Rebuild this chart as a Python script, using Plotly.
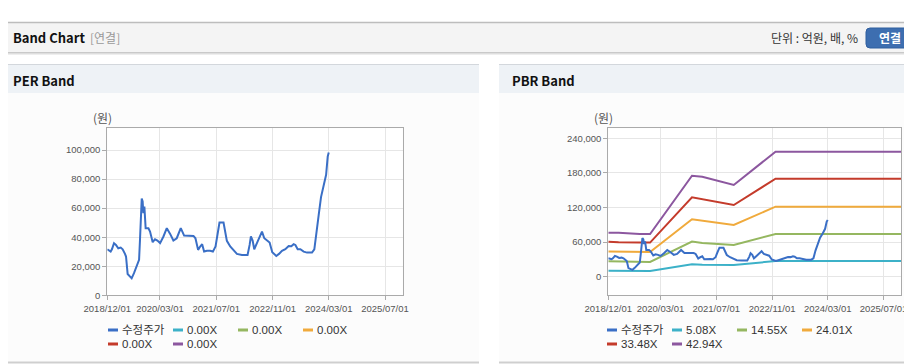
import plotly.graph_objects as go

# ---------------- data ----------------
price_name = "수정주가"
price_dates = [
    "2018-12-01", "2018-12-18", "2018-12-30", "2019-01-10", "2019-01-28", "2019-02-14",
    "2019-03-06", "2019-03-27", "2019-04-13", "2019-05-03", "2019-05-12", "2019-05-26",
    "2019-06-16", "2019-06-30", "2019-07-20", "2019-08-12", "2019-09-02", "2019-09-10",
    "2019-09-19", "2019-09-25", "2019-10-03", "2019-10-09", "2019-10-18", "2019-10-29",
    "2019-11-22", "2019-12-06", "2019-12-29", "2020-01-18", "2020-02-08", "2020-03-02",
    "2020-03-31", "2020-04-29", "2020-05-28", "2020-06-25", "2020-07-24", "2020-08-28",
    "2020-09-26", "2020-11-17", "2020-12-16", "2021-01-02", "2021-01-25", "2021-02-12",
    "2021-03-01", "2021-03-18", "2021-04-11", "2021-05-09", "2021-06-02", "2021-06-25",
    "2021-07-06", "2021-07-29", "2021-09-02", "2021-09-14", "2021-10-01", "2021-10-30",
    "2021-11-28", "2021-12-27", "2022-02-08", "2022-03-29", "2022-04-16", "2022-04-27",
    "2022-05-12", "2022-05-26", "2022-06-18", "2022-07-11", "2022-08-01", "2022-08-21",
    "2022-09-13", "2022-10-06", "2022-10-29", "2022-12-03", "2022-12-26", "2023-01-21",
    "2023-02-19", "2023-03-20", "2023-04-12", "2023-05-02", "2023-05-17", "2023-06-06",
    "2023-06-29", "2023-07-28", "2023-08-26", "2023-10-08", "2023-10-28", "2023-11-15",
    "2023-12-05", "2023-12-25", "2024-01-17", "2024-02-07", "2024-02-21", "2024-03-01",
]
price_values = [
    31700, 30600, 30100, 31700, 35900, 34700,
    32400, 32900, 31700, 28500, 26700, 14700,
    12900, 11700, 15200, 19800, 24400, 38200,
    52600, 66700, 64600, 56600, 61100, 46200,
    46200, 43900, 36600, 38600, 37700, 35900,
    40500, 46200, 42300, 37700, 39300, 46200,
    41100, 41100, 40900, 39300, 31300, 33600,
    35200, 30100, 30600, 30600, 30100, 33600,
    39300, 50100, 50100, 45100, 37500, 33600,
    31300, 28500, 27800, 27800, 34700, 40500,
    37700, 31700, 35900, 39800, 43900, 39300,
    37700, 36300, 29700, 27100, 28500, 30600,
    31700, 34000, 33800, 35200, 34700, 31700,
    31700, 30100, 29400, 29400, 31700, 45100,
    55400, 67600, 74900, 83000, 95600, 98400,
]

per_band_names = ["0.00X", "0.00X", "0.00X", "0.00X", "0.00X"]

pbr_band_names = ["5.08X", "14.55X", "24.01X", "33.48X", "42.94X"]
band_dates = ["2018-12-01", "2019-03-01", "2019-09-01", "2019-12-01", "2020-12-01",
              "2021-03-01", "2021-12-01", "2022-12-01", "2025-12-01"]
pbr_band_5_08 = [10000, 10000, 9700, 9700, 21500, 20500, 20000, 27000, 27000]
pbr_band_14_55 = [26500, 26000, 25500, 25500, 60700, 58500, 54900, 74000, 74000]
pbr_band_24_01 = [43400, 43200, 42500, 42500, 99500, 97000, 89600, 121400, 121400]
pbr_band_33_48 = [60700, 59500, 59000, 59000, 137600, 134500, 124300, 170000, 170000]
pbr_band_42_94 = [76300, 76300, 74000, 74000, 175200, 173500, 159000, 216900, 216900]
pbr_bands = [pbr_band_5_08, pbr_band_14_55, pbr_band_24_01, pbr_band_33_48, pbr_band_42_94]

x_tick_vals = ["2018-12-01", "2020-03-01", "2021-07-01", "2022-11-01", "2024-03-01", "2025-07-01"]
x_range = ["2018-12-01", "2025-12-01"]
per_y_ticks = [0, 20000, 40000, 60000, 80000, 100000]
pbr_y_ticks = [0, 60000, 120000, 180000, 240000]

price_color = "#3a6fc6"
band_colors = ["#3cb1c8", "#95b760", "#f0aa3c", "#c43b2b", "#8c579f"]

# ---------------- geometry helpers (layout only) ----------------
# the page body has an 8px margin, so the figure is drawn 8px smaller and
# positions are given in window pixels, shifted by that offset.
OFF = 8
W, H = 912 - OFF, 364 - OFF


def X(px):
    return (px - OFF) / W


def Y(py):
    return 1 - (py - OFF) / H


FONT_TXT = "Noto Sans CJK KR, Liberation Sans, sans-serif"
FONT_NUM = "Liberation Sans, Arial, sans-serif"
FONT_LEG = "Liberation Sans, Noto Sans CJK KR, sans-serif"

fig = go.Figure()

fig.add_trace(go.Scatter(x=price_dates, y=price_values, mode="lines", name=price_name,
                         line=dict(color=price_color, width=2), xaxis="x", yaxis="y",
                         showlegend=False))
for name, vals, col in zip(pbr_band_names, pbr_bands, band_colors):
    fig.add_trace(go.Scatter(x=band_dates, y=vals, mode="lines", name=name,
                             line=dict(color=col, width=2), xaxis="x2", yaxis="y2",
                             showlegend=False))
fig.add_trace(go.Scatter(x=price_dates, y=price_values, mode="lines", name=price_name,
                         line=dict(color=price_color, width=2), xaxis="x2", yaxis="y2",
                         showlegend=False))

axis_common = dict(showline=True, linecolor="#aaaaaa", linewidth=1, mirror=True,
                   showgrid=True, gridcolor="#e6e6e6", gridwidth=1, zeroline=False,
                   ticks="outside", ticklen=4, tickcolor="#aaaaaa", automargin=False,
                   ticklabeloverflow="allow",
                   tickfont=dict(family=FONT_NUM, size=9.5, color="#555555"))

fig.update_layout(
    width=W, height=H,
    margin=dict(l=0, r=0, t=0, b=0, autoexpand=False),
    paper_bgcolor="#ffffff",
    plot_bgcolor="#ffffff",
    showlegend=False,
    xaxis=dict(domain=[X(107.3), X(402.7)], anchor="y", type="date", range=x_range,
               tickvals=x_tick_vals, tickformat="%Y/%m/%d", tickangle=0, **axis_common),
    yaxis=dict(domain=[Y(295.3), Y(128.3)], anchor="x", range=[0, 115000],
               tickvals=per_y_ticks, tickformat=",", **axis_common),
    xaxis2=dict(domain=[X(608.3), X(901)], anchor="y2", type="date", range=x_range,
                tickvals=x_tick_vals, tickformat="%Y/%m/%d", tickangle=0, **axis_common),
    yaxis2=dict(domain=[Y(295.3), Y(128.3)], anchor="x2", range=[-32500, 257500],
                tickvals=pbr_y_ticks, tickformat=",", **axis_common),
)

shapes = []
ann = []


def rect(x0, y0, x1, y1, fill, line=None):
    shapes.append(dict(type="rect", xref="paper", yref="paper", x0=X(x0), x1=X(x1),
                       y0=Y(y1), y1=Y(y0), fillcolor=fill, layer="below",
                       line=dict(width=0) if line is None else line))


def hline(x0, x1, y, color, width=1):
    shapes.append(dict(type="line", xref="paper", yref="paper", x0=X(x0), x1=X(x1),
                       y0=Y(y), y1=Y(y), line=dict(color=color, width=width), layer="below"))


rect(0, 22, 912, 52, "#f4f4f4")
hline(0, 912, 22.5, "#bdbdbd", 1.5)
hline(0, 912, 52.5, "#c9c9c9", 1)
hline(0, 912, 53.5, "#dedede", 1)
hline(0, 912, 54.5, "#eeeeee", 1)

for (px0, px1) in [(0, 479), (499, 912)]:
    rect(px0, 93, px1, 362, "#fcfcfc")
    rect(px0, 64, px1, 93, "#eef2f6")
    hline(px0, px1, 64.5, "#d3d7dc", 1)
    hline(px0, px1, 362.5, "#cfcfcf", 2)

rect(107.3, 128.3, 402.7, 295.3, "#ffffff")
rect(608.3, 128.3, 901, 295.3, "#ffffff")

ann.append(dict(text="<b>Band Chart</b>", x=X(11), y=Y(38), xanchor="left", yanchor="middle",
                font=dict(family=FONT_TXT, size=13, color="#111111")))
ann.append(dict(text="[연결]", x=X(88), y=Y(38), xanchor="left", yanchor="middle",
                font=dict(family=FONT_TXT, size=12, color="#999999")))
ann.append(dict(text="단위 : 억원, 배, %", x=X(860), y=Y(38), xanchor="right", yanchor="middle",
                font=dict(family=FONT_TXT, size=12, color="#333333")))
shapes.append(dict(type="path", xref="paper", yref="paper",
                   path=f"M {X(870)},{Y(28)} L {X(912)},{Y(28)} L {X(912)},{Y(48)} "
                        f"L {X(870)},{Y(48)} Q {X(866)},{Y(48)} {X(866)},{Y(44)} "
                        f"L {X(866)},{Y(32)} Q {X(866)},{Y(28)} {X(870)},{Y(28)} Z",
                   fillcolor="#3d6eb0", line=dict(color="#2f5e9e", width=1)))
ann.append(dict(text="<b>연결</b>", x=X(890), y=Y(38), xanchor="center", yanchor="middle",
                font=dict(family=FONT_TXT, size=12, color="#ffffff")))

ann.append(dict(text="<b>PER Band</b>", x=X(11), y=Y(80), xanchor="left", yanchor="middle",
                font=dict(family=FONT_TXT, size=13, color="#111111")))
ann.append(dict(text="<b>PBR Band</b>", x=X(510), y=Y(80), xanchor="left", yanchor="middle",
                font=dict(family=FONT_TXT, size=13, color="#111111")))

ann.append(dict(text="(원)", x=X(102), y=Y(118), xanchor="center", yanchor="middle",
                font=dict(family=FONT_TXT, size=12, color="#555555")))
ann.append(dict(text="(원)", x=X(603), y=Y(118), xanchor="center", yanchor="middle",
                font=dict(family=FONT_TXT, size=12, color="#555555")))


def legend(x_start, names, colors):
    for i, (nm, col) in enumerate(zip(names, colors)):
        row, colidx = divmod(i, 4)
        lx = x_start + colidx * 65
        ly = 330 + row * 14
        shapes.append(dict(type="line", xref="paper", yref="paper", x0=X(lx), x1=X(lx + 10),
                           y0=Y(ly), y1=Y(ly), line=dict(color=col, width=3)))
        ann.append(dict(text=nm, x=X(lx + 12), y=Y(ly), xanchor="left", yanchor="middle",
                        font=dict(family=FONT_LEG, size=11.5, color="#333333")))


legend(108, [price_name] + per_band_names, [price_color] + band_colors)
legend(607, [price_name] + pbr_band_names, [price_color] + band_colors)

for a in ann:
    a.update(xref="paper", yref="paper", showarrow=False)

fig.update_layout(shapes=shapes, annotations=ann)
fig.write_html("out.html")
